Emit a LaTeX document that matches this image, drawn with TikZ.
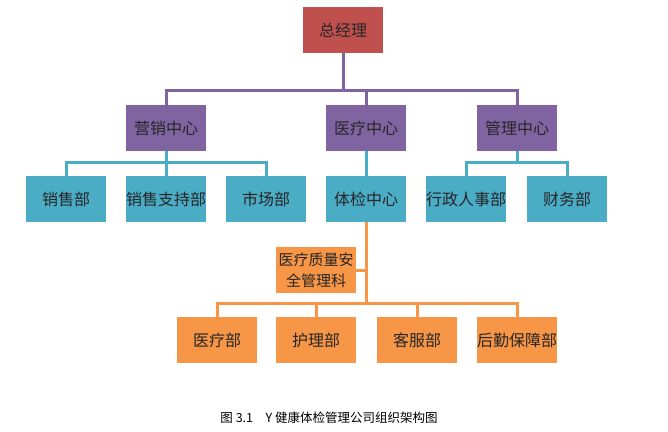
\documentclass[tikz,border=0pt]{standalone}
\usepackage{fontspec}
\newfontfamily\cjk{Noto Sans CJK SC}
\begin{document}
\begin{tikzpicture}[x=1pt,y=-1pt,
  every node/.style={font=\cjk\fontsize{16}{18}\selectfont, text=black!85, inner sep=0pt},
  bx/.style={minimum width=80pt, minimum height=46pt, align=center},
  redbox/.style={bx, fill={rgb,255:red,192;green,80;blue,77}},
  purbox/.style={bx, fill={rgb,255:red,128;green,100;blue,162}},
  tealbox/.style={bx, fill={rgb,255:red,75;green,172;blue,198}},
  orbox/.style={bx, fill={rgb,255:red,247;green,150;blue,70}},
  purline/.style={draw={rgb,255:red,128;green,100;blue,162}, line width=3pt},
  tealline/.style={draw={rgb,255:red,75;green,172;blue,198}, line width=3pt},
  orline/.style={draw={rgb,255:red,247;green,150;blue,70}, line width=3pt}]
\useasboundingbox (0,0) rectangle (668,431);
% level 0
\node[redbox] (gm) at (343,30) {总经理};
% level 1
\node[purbox] (yx) at (166,128) {营销中心};
\node[purbox] (yl) at (366,128) {医疗中心};
\node[purbox] (gl) at (517,128) {管理中心};
% level 2
\node[tealbox] (xs) at (66,199) {销售部};
\node[tealbox] (xz) at (166,199) {销售支持部};
\node[tealbox] (sc) at (266,199) {市场部};
\node[tealbox] (tj) at (366,199) {体检中心};
\node[tealbox] (xr) at (466,199) {行政人事部};
\node[tealbox] (cw) at (567,199) {财务部};
% level 3
\node[orbox, font=\cjk\fontsize{15}{21}\selectfont] (zl) at (316,270) {医疗质量安\\全管理科};
\node[orbox] (ylb) at (217,340) {医疗部};
\node[orbox] (hl) at (316,340) {护理部};
\node[orbox] (kf) at (417,340) {客服部};
\node[orbox] (hq) at (517,340) {后勤保障部};
% caption
\node[font=\cjk\fontsize{12.5}{14}\selectfont, text=black] (cap) at (329,418) {图 3.1\quad Y 健康体检管理公司组织架构图};
% purple connectors
\coordinate (pb) at (343,90);
\draw[purline] (gm.south) -- (pb);
\draw[purline] (yx.north) -- (166,90) -- (517,90) -- (gl.north);
\draw[purline] (366,90) -- (yl.north);
% teal connectors
\draw[tealline] (yx.south) -- (166,162);
\draw[tealline] (xs.north) -- (66,162) -- (266,162) -- (sc.north);
\draw[tealline] (166,162) -- (xz.north);
\draw[tealline] (yl.south) -- (tj.north);
\draw[tealline] (gl.south) -- (517,162);
\draw[tealline] (xr.north) -- (466,162) -- (567,162) -- (cw.north);
% orange connectors
\draw[orline] (tj.south) -- (366,303);
\draw[orline] (zl.east) -- (366,270);
\draw[orline] (ylb.north) -- (217,303) -- (517,303) -- (hq.north);
\draw[orline] (316,303) -- (hl.north);
\draw[orline] (417,303) -- (kf.north);
\end{tikzpicture}
\end{document}
